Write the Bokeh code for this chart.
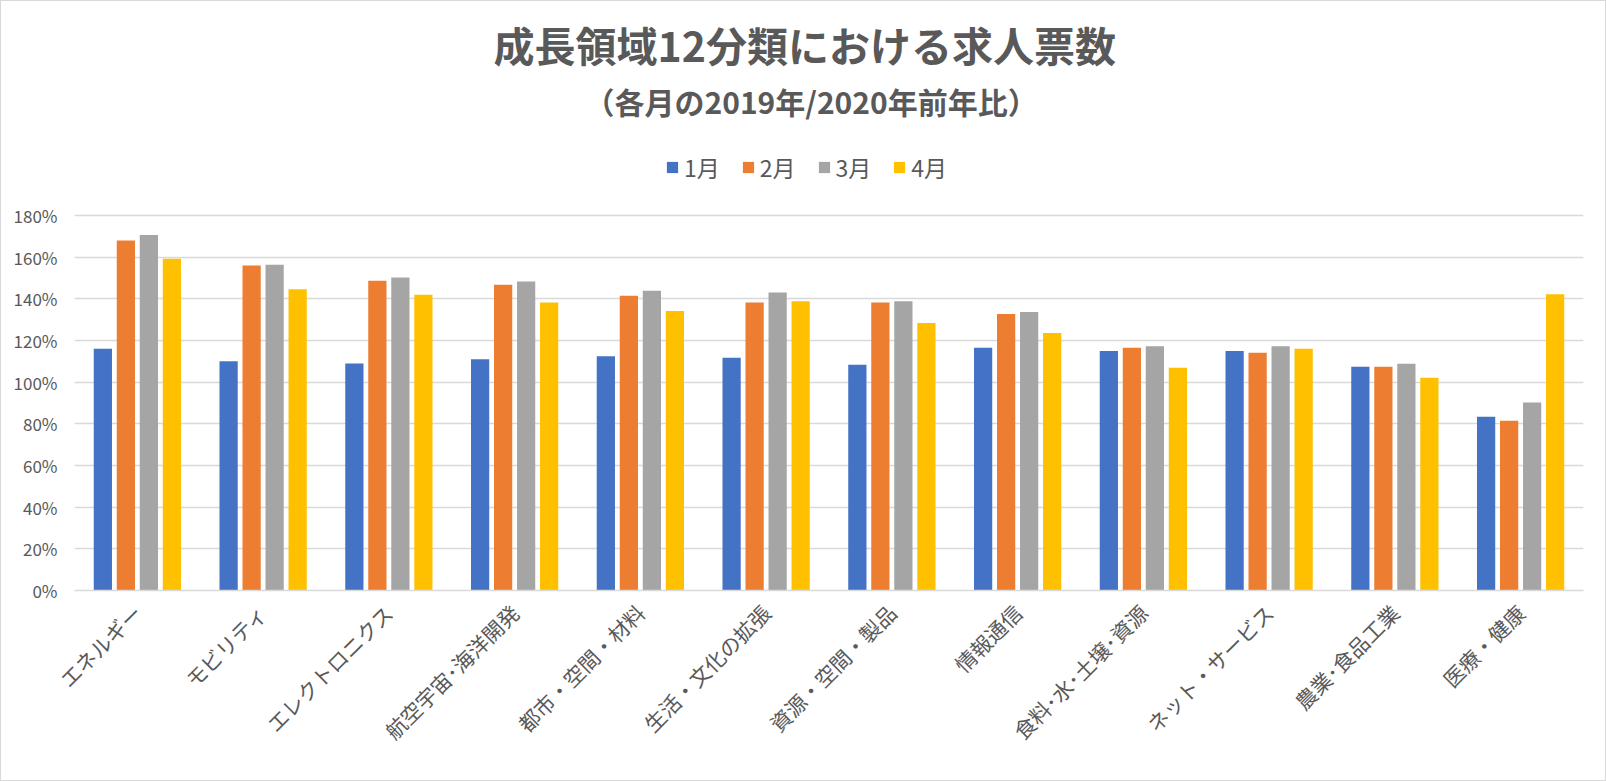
import math
from bokeh.plotting import figure
from bokeh.models import ColumnDataSource, FactorRange, Legend, LegendItem, Title, NumeralTickFormatter, FixedTicker
from bokeh.transform import dodge
from bokeh.embed import file_html
from bokeh.resources import INLINE

categories = ["エネルギー", "モビリティ", "エレクトロニクス", "航空宇宙･海洋開発", "都市・空間・材料",
              "生活・文化の拡張", "資源・空間・製品", "情報通信", "食料･水･土壌･資源", "ネット・サービス",
              "農業･食品工業", "医療・健康"]
jan = [1.16, 1.10, 1.09, 1.11, 1.125, 1.117, 1.084, 1.165, 1.15, 1.15, 1.074, 0.834]
feb = [1.68, 1.56, 1.487, 1.468, 1.415, 1.383, 1.383, 1.327, 1.165, 1.141, 1.074, 0.815]
mar = [1.707, 1.564, 1.502, 1.483, 1.439, 1.431, 1.388, 1.337, 1.173, 1.173, 1.088, 0.902]
apr = [1.593, 1.446, 1.42, 1.383, 1.342, 1.388, 1.284, 1.236, 1.069, 1.16, 1.021, 1.422]
series_names = ["1月", "2月", "3月", "4月"]
y_ticks = [0, 0.2, 0.4, 0.6, 0.8, 1.0, 1.2, 1.4, 1.6, 1.8]

colors = ["#4472C4", "#ED7D31", "#A5A5A5", "#FFC000"]
FONT = "Noto Sans CJK JP"
GRAY = "#595959"

src = ColumnDataSource(dict(cat=categories, jan=jan, feb=feb, mar=mar, apr=apr))

p = figure(frame_width=1509, frame_height=459, x_range=FactorRange(*categories, range_padding=0),
           y_range=(0, 2.2032), output_backend="svg", toolbar_location=None, title=None,
           min_border_left=73, min_border_right=22, min_border_bottom=190, min_border_top=130)

offsets = [-0.2745, -0.0915, 0.0915, 0.2745]
renderers = []
for col, off, c in zip(["jan", "feb", "mar", "apr"], offsets, colors):
    r = p.vbar(x=dodge("cat", off, range=p.x_range), top=col, width=0.145, source=src,
               fill_color=c, line_color=None)
    renderers.append(r)

p.yaxis.ticker = FixedTicker(ticks=y_ticks)
p.yaxis.formatter = NumeralTickFormatter(format="0%")
p.yaxis.axis_line_color = None
p.yaxis.major_tick_line_color = None
p.yaxis.minor_tick_line_color = None
p.yaxis.major_label_text_font = FONT
p.yaxis.major_label_text_font_size = "17px"
p.yaxis.major_label_text_color = GRAY
p.yaxis.major_label_standoff = 11

p.xaxis.axis_line_color = "#d9d9d9"
p.xaxis.axis_line_width = 1.5
p.xaxis.major_tick_line_color = None
p.xaxis.minor_tick_line_color = None
p.xaxis.major_label_orientation = math.pi / 4
p.xaxis.major_label_text_font = FONT
p.xaxis.major_label_text_font_size = "21px"
p.xaxis.major_label_text_color = GRAY
p.xaxis.major_label_standoff = 12

p.xgrid.grid_line_color = None
p.ygrid.grid_line_color = "#d9d9d9"
p.ygrid.grid_line_width = 1.5
p.outline_line_color = None

legend = Legend(items=[LegendItem(label=n, renderers=[r]) for n, r in zip(series_names, renderers)],
                orientation="horizontal", location=(591, 406),
                label_text_font=FONT, label_text_font_size="23px", label_text_color=GRAY,
                glyph_width=14, glyph_height=14, label_standoff=5, spacing=21,
                border_line_color=None, background_fill_alpha=0, padding=0, margin=0)
p.add_layout(legend, "center")

sub = Title(text="（各月の2019年/2020年前年比）", align="left", offset=510, text_font=FONT,
            text_font_size="30px", text_font_style="bold", text_color=GRAY, standoff=18)
p.add_layout(sub, "above")
main = Title(text="成長領域12分類における求人票数", align="left", offset=419, text_font=FONT,
             text_font_size="41px", text_font_style="bold", text_color=GRAY, standoff=-13)
p.add_layout(main, "above")

p.styles = {"border": "1px solid #d9d9d9", "box-sizing": "border-box"}

open("out.html", "w").write(file_html(p, INLINE))
